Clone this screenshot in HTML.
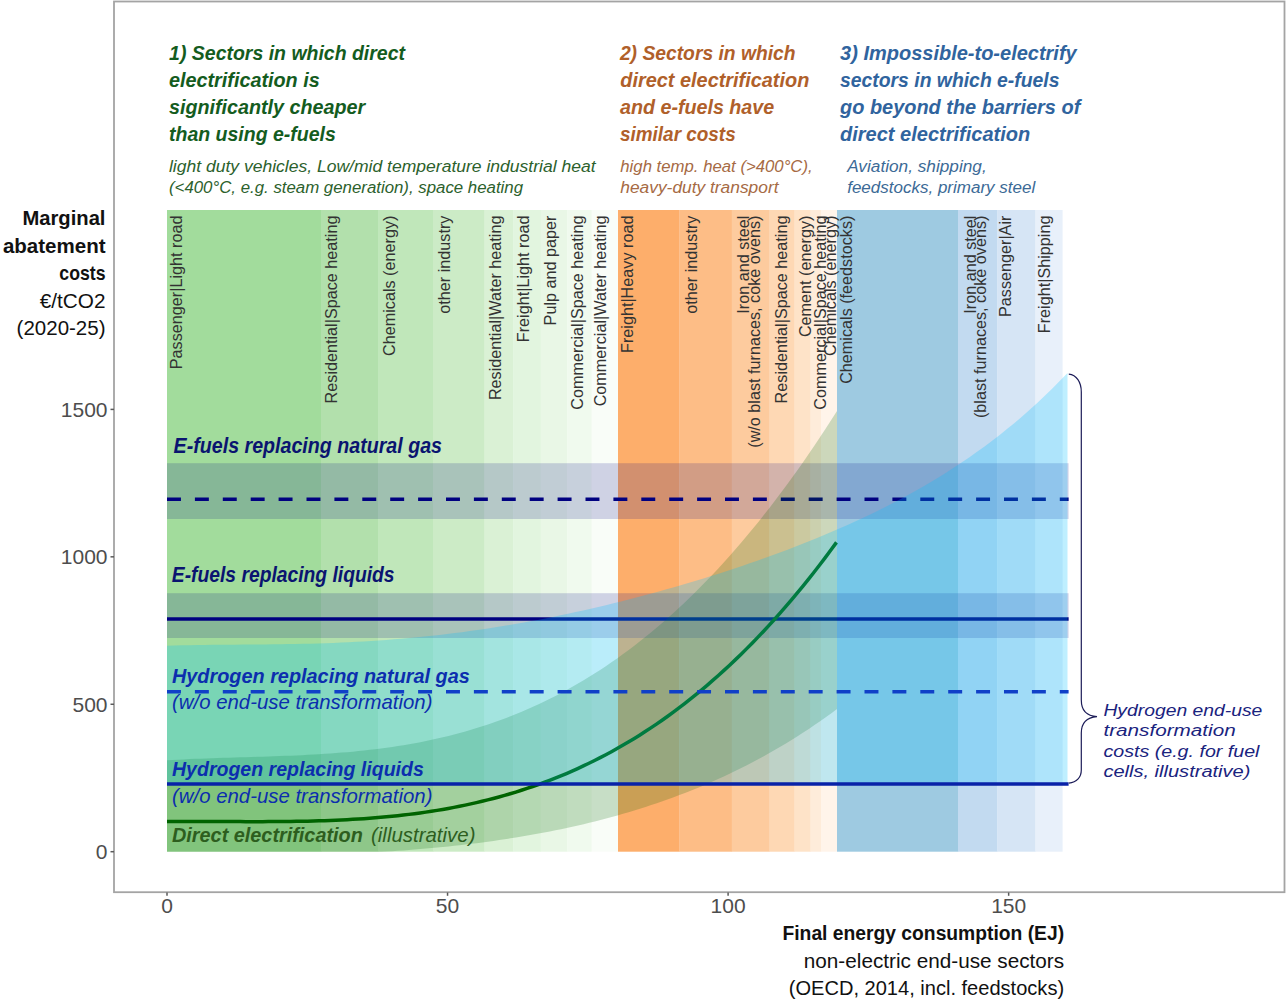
<!DOCTYPE html>
<html><head><meta charset="utf-8"><style>
html,body{margin:0;padding:0;background:#fff;overflow:hidden;}
svg{display:block;font-family:"Liberation Sans",sans-serif;}
</style></head><body>
<svg width="1286" height="1003" viewBox="0 0 1286 1003">
<rect width="1286" height="1003" fill="#fff"/>
<rect x="167" y="210" width="154.30" height="641.7" fill="#a2dc9c"/>
<rect x="321" y="210" width="57.80" height="641.7" fill="#b2e0ac"/>
<rect x="378.5" y="210" width="55.30" height="641.7" fill="#c0e7ba"/>
<rect x="433.5" y="210" width="51.30" height="641.7" fill="#ccebc6"/>
<rect x="484.5" y="210" width="28.90" height="641.7" fill="#daf1d5"/>
<rect x="513.1" y="210" width="27.90" height="641.7" fill="#e2f5df"/>
<rect x="540.7" y="210" width="26.80" height="641.7" fill="#e9f7e6"/>
<rect x="567.2" y="210" width="24.70" height="641.7" fill="#f0faee"/>
<rect x="591.6" y="210" width="26.70" height="641.7" fill="#f9fdf8"/>
<rect x="618" y="210" width="61.60" height="641.7" fill="#fdae6b"/>
<rect x="679.3" y="210" width="52.80" height="641.7" fill="#fdbd86"/>
<rect x="731.8" y="210" width="38.00" height="641.7" fill="#fdcb9e"/>
<rect x="769.5" y="210" width="25.30" height="641.7" fill="#fed8b4"/>
<rect x="794.5" y="210" width="16.30" height="641.7" fill="#fee3c8"/>
<rect x="810.5" y="210" width="10.80" height="641.7" fill="#feecda"/>
<rect x="821" y="210" width="16.30" height="641.7" fill="#fff4ea"/>
<rect x="837" y="210" width="121.30" height="641.7" fill="#9ecae1"/>
<rect x="958" y="210" width="39.50" height="641.7" fill="#c2daf0"/>
<rect x="997.2" y="210" width="38.50" height="641.7" fill="#d6e5f5"/>
<rect x="1035.4" y="210" width="27.20" height="641.7" fill="#e8f0fa"/>
<rect x="167" y="463.2" width="901.5999999999999" height="55.80000000000001" fill="#000080" fill-opacity="0.17"/>
<rect x="167" y="593.2" width="901.5999999999999" height="44.799999999999955" fill="#000080" fill-opacity="0.17"/>
<line x1="167" y1="499.3" x2="1068.6" y2="499.3" stroke="#000080" stroke-width="3.5" stroke-dasharray="13.95 13.95"/>
<line x1="167" y1="619" x2="1068.6" y2="619" stroke="#000080" stroke-width="3.5"/>
<polygon points="167.00,760.32 172.63,759.98 178.26,759.67 183.89,759.38 189.52,759.11 195.15,758.86 200.78,758.63 206.41,758.42 212.04,758.21 217.67,758.02 223.30,757.84 228.93,757.67 234.56,757.50 240.19,757.33 245.82,757.16 251.45,757.00 257.08,756.83 262.71,756.65 268.34,756.47 273.97,756.28 279.61,756.08 285.24,755.87 290.87,755.64 296.50,755.40 302.13,755.14 307.76,754.85 313.39,754.55 319.02,754.22 324.65,753.86 330.28,753.48 335.91,753.07 341.54,752.62 347.17,752.15 352.80,751.63 358.43,751.09 364.06,750.50 369.69,749.87 375.32,749.20 380.95,748.49 386.58,747.73 392.21,746.93 397.84,746.07 403.47,745.17 409.10,744.21 414.73,743.20 420.36,742.14 425.99,741.01 431.62,739.83 437.25,738.59 442.88,737.29 448.51,735.92 454.14,734.49 459.77,732.99 465.40,731.43 471.03,729.79 476.66,728.08 482.29,726.31 487.92,724.45 493.55,722.52 499.18,720.52 504.82,718.43 510.45,716.27 516.08,714.02 521.71,711.69 527.34,709.28 532.97,706.78 538.60,704.20 544.23,701.52 549.86,698.76 555.49,695.91 561.12,692.96 566.75,689.92 572.38,686.78 578.01,683.55 583.64,680.22 589.27,676.79 594.90,673.26 600.53,669.64 606.16,665.90 611.79,662.07 617.42,658.13 623.05,654.08 628.68,649.92 634.31,645.66 639.94,641.29 645.57,636.80 651.20,632.20 656.83,627.49 662.46,622.67 668.09,617.73 673.72,612.68 679.35,607.50 684.98,602.21 690.61,596.80 696.24,591.26 701.87,585.61 707.50,579.83 713.13,573.93 718.76,567.91 724.39,561.75 730.03,555.48 735.66,549.07 741.29,542.53 746.92,535.87 752.55,529.08 758.18,522.15 763.81,515.09 769.44,507.90 775.07,500.57 780.70,493.11 786.33,485.51 791.96,477.78 797.59,469.91 803.22,461.90 808.85,453.75 814.48,445.46 820.11,437.04 825.74,428.47 831.37,419.75 837.00,410.90 837.00,709.08 831.37,713.22 825.74,717.27 820.11,721.23 814.48,725.10 808.85,728.88 803.22,732.58 797.59,736.19 791.96,739.73 786.33,743.18 780.70,746.55 775.07,749.84 769.44,753.06 763.81,756.20 758.18,759.26 752.55,762.26 746.92,765.18 741.29,768.03 735.66,770.81 730.03,773.53 724.39,776.18 718.76,778.76 713.13,781.28 707.50,783.73 701.87,786.13 696.24,788.46 690.61,790.74 684.98,792.95 679.35,795.11 673.72,797.22 668.09,799.27 662.46,801.26 656.83,803.20 651.20,805.10 645.57,806.94 639.94,808.73 634.31,810.47 628.68,812.16 623.05,813.81 617.42,815.42 611.79,816.97 606.16,818.49 600.53,819.96 594.90,821.39 589.27,822.78 583.64,824.13 578.01,825.44 572.38,826.71 566.75,827.94 561.12,829.13 555.49,830.29 549.86,831.42 544.23,832.51 538.60,833.56 532.97,834.59 527.34,835.58 521.71,836.54 516.08,837.46 510.45,838.36 504.82,839.23 499.18,840.07 493.55,840.88 487.92,841.66 482.29,842.42 476.66,843.14 471.03,843.85 465.40,844.52 459.77,845.17 454.14,845.80 448.51,846.40 442.88,846.98 437.25,847.53 431.62,848.07 425.99,848.58 420.36,849.07 414.73,849.53 409.10,849.98 403.47,850.40 397.84,850.81 392.21,851.19 386.58,851.56 380.95,851.70 375.32,851.70 369.69,851.70 364.06,851.70 358.43,851.70 352.80,851.70 347.17,851.70 341.54,851.70 335.91,851.70 330.28,851.70 324.65,851.70 319.02,851.70 313.39,851.70 307.76,851.70 302.13,851.70 296.50,851.70 290.87,851.70 285.24,851.70 279.61,851.70 273.97,851.70 268.34,851.70 262.71,851.70 257.08,851.70 251.45,851.70 245.82,851.70 240.19,851.70 234.56,851.70 228.93,851.70 223.30,851.70 217.67,851.70 212.04,851.70 206.41,851.70 200.78,851.70 195.15,851.70 189.52,851.70 183.89,851.70 178.26,851.70 172.63,851.70 167.00,851.70" fill="#006400" fill-opacity="0.2"/>
<polyline points="167.00,821.46 172.63,821.44 178.25,821.42 183.88,821.42 189.50,821.43 195.13,821.44 200.76,821.45 206.38,821.48 212.01,821.50 217.63,821.53 223.26,821.55 228.89,821.58 234.51,821.60 240.14,821.62 245.76,821.63 251.39,821.64 257.02,821.64 262.64,821.64 268.27,821.62 273.89,821.59 279.52,821.56 285.15,821.50 290.77,821.44 296.40,821.35 302.03,821.25 307.65,821.13 313.28,820.99 318.90,820.83 324.53,820.65 330.16,820.45 335.78,820.22 341.41,819.96 347.03,819.68 352.66,819.36 358.29,819.02 363.91,818.65 369.54,818.24 375.16,817.80 380.79,817.33 386.42,816.81 392.04,816.27 397.67,815.68 403.29,815.05 408.92,814.38 414.55,813.67 420.17,812.91 425.80,812.11 431.42,811.26 437.05,810.36 442.68,809.42 448.30,808.42 453.93,807.37 459.55,806.27 465.18,805.12 470.81,803.91 476.43,802.64 482.06,801.31 487.68,799.92 493.31,798.48 498.94,796.97 504.56,795.39 510.19,793.76 515.82,792.05 521.44,790.28 527.07,788.44 532.69,786.53 538.32,784.55 543.95,782.49 549.57,780.36 555.20,778.16 560.82,775.88 566.45,773.52 572.08,771.08 577.70,768.56 583.33,765.96 588.95,763.28 594.58,760.51 600.21,757.65 605.83,754.71 611.46,751.68 617.08,748.56 622.71,745.35 628.34,742.04 633.96,738.65 639.59,735.15 645.21,731.56 650.84,727.87 656.47,724.08 662.09,720.20 667.72,716.21 673.34,712.11 678.97,707.91 684.60,703.61 690.22,699.20 695.85,694.68 701.47,690.04 707.10,685.30 712.73,680.45 718.35,675.48 723.98,670.39 729.61,665.19 735.23,659.87 740.86,654.43 746.48,648.87 752.11,643.19 757.74,637.38 763.36,631.45 768.99,625.40 774.61,619.21 780.24,612.90 785.87,606.45 791.49,599.87 797.12,593.16 802.74,586.32 808.37,579.34 814.00,572.22 819.62,564.97 825.25,557.57 830.87,550.03 836.50,542.35" fill="none" stroke="#006400" stroke-width="3.5"/>
<polygon points="167.00,645.70 174.57,645.47 182.13,645.29 189.70,645.14 197.27,645.02 204.84,644.92 212.40,644.84 219.97,644.77 227.54,644.71 235.11,644.66 242.67,644.60 250.24,644.55 257.81,644.49 265.37,644.42 272.94,644.33 280.51,644.23 288.08,644.12 295.64,643.98 303.21,643.82 310.78,643.63 318.34,643.41 325.91,643.17 333.48,642.89 341.05,642.58 348.61,642.23 356.18,641.85 363.75,641.43 371.32,640.97 378.88,640.47 386.45,639.93 394.02,639.34 401.58,638.72 409.15,638.05 416.72,637.34 424.29,636.58 431.85,635.78 439.42,634.94 446.99,634.05 454.55,633.12 462.12,632.14 469.69,631.11 477.26,630.04 484.82,628.92 492.39,627.76 499.96,626.56 507.53,625.31 515.09,624.02 522.66,622.68 530.23,621.30 537.79,619.88 545.36,618.41 552.93,616.90 560.50,615.35 568.06,613.76 575.63,612.12 583.20,610.44 590.76,608.73 598.33,606.97 605.90,605.17 613.47,603.33 621.03,601.45 628.60,599.54 636.17,597.58 643.74,595.58 651.30,593.55 658.87,591.47 666.44,589.35 674.00,587.20 681.57,585.00 689.14,582.76 696.71,580.49 704.27,578.17 711.84,575.81 719.41,573.40 726.97,570.95 734.54,568.46 742.11,565.92 749.68,563.34 757.24,560.70 764.81,558.02 772.38,555.29 779.95,552.50 787.51,549.66 795.08,546.76 802.65,543.81 810.21,540.79 817.78,537.71 825.35,534.56 832.92,531.35 840.48,528.06 848.05,524.70 855.62,521.26 863.18,517.74 870.75,514.14 878.32,510.44 885.89,506.65 893.45,502.77 901.02,498.78 908.59,494.68 916.16,490.47 923.72,486.15 931.29,481.70 938.86,477.13 946.42,472.42 953.99,467.57 961.56,462.57 969.13,457.42 976.69,452.11 984.26,446.63 991.83,440.98 999.39,435.15 1006.96,429.12 1014.53,422.89 1022.10,416.46 1029.66,409.81 1037.23,402.93 1044.80,395.82 1052.37,388.46 1059.93,380.85 1067.50,372.97 1067.50,784.00 167.00,784.00" fill="#00bfff" fill-opacity="0.25"/>
<line x1="167" y1="691.7" x2="1068.6" y2="691.7" stroke="#1040c8" stroke-width="3.4" stroke-dasharray="13.95 13.95"/>
<line x1="167" y1="784" x2="1068.6" y2="784" stroke="#0822a8" stroke-width="3.5"/>
<rect x="114" y="1.5" width="1170.5" height="890.7" fill="none" stroke="#a4a4a4" stroke-width="1.8"/>
<line x1="110.5" y1="851.70" x2="114" y2="851.70" stroke="#5a5a5a" stroke-width="1.5"/>
<text x="107.5" y="859.10" text-anchor="end" font-size="21" fill="#4d4d4d">0</text>
<line x1="110.5" y1="704.27" x2="114" y2="704.27" stroke="#5a5a5a" stroke-width="1.5"/>
<text x="107.5" y="711.67" text-anchor="end" font-size="21" fill="#4d4d4d">500</text>
<line x1="110.5" y1="556.83" x2="114" y2="556.83" stroke="#5a5a5a" stroke-width="1.5"/>
<text x="107.5" y="564.23" text-anchor="end" font-size="21" fill="#4d4d4d">1000</text>
<line x1="110.5" y1="409.40" x2="114" y2="409.40" stroke="#5a5a5a" stroke-width="1.5"/>
<text x="107.5" y="416.80" text-anchor="end" font-size="21" fill="#4d4d4d">1500</text>
<line x1="167.00" y1="892.5" x2="167.00" y2="895.8" stroke="#5a5a5a" stroke-width="1.5"/>
<text x="167.00" y="913.3" text-anchor="middle" font-size="21" fill="#4d4d4d">0</text>
<line x1="447.55" y1="892.5" x2="447.55" y2="895.8" stroke="#5a5a5a" stroke-width="1.5"/>
<text x="447.55" y="913.3" text-anchor="middle" font-size="21" fill="#4d4d4d">50</text>
<line x1="728.10" y1="892.5" x2="728.10" y2="895.8" stroke="#5a5a5a" stroke-width="1.5"/>
<text x="728.10" y="913.3" text-anchor="middle" font-size="21" fill="#4d4d4d">100</text>
<line x1="1008.65" y1="892.5" x2="1008.65" y2="895.8" stroke="#5a5a5a" stroke-width="1.5"/>
<text x="1008.65" y="913.3" text-anchor="middle" font-size="21" fill="#4d4d4d">150</text>
<text transform="translate(182.2,215.6) rotate(-90)" x="0" y="0" font-size="16.2" fill="#333333" text-anchor="end">Passenger|Light road</text>
<text transform="translate(337,215.6) rotate(-90)" x="0" y="0" font-size="16.2" fill="#333333" text-anchor="end">Residential|Space heating</text>
<text transform="translate(394.5,215.6) rotate(-90)" x="0" y="0" font-size="16.2" fill="#333333" text-anchor="end">Chemicals (energy)</text>
<text transform="translate(450.3,215.6) rotate(-90)" x="0" y="0" font-size="16.2" fill="#333333" text-anchor="end">other industry</text>
<text transform="translate(500.9,215.6) rotate(-90)" x="0" y="0" font-size="16.2" fill="#333333" text-anchor="end">Residential|Water heating</text>
<text transform="translate(528.5,215.6) rotate(-90)" x="0" y="0" font-size="16.2" fill="#333333" text-anchor="end">Freight|Light road</text>
<text transform="translate(556,215.6) rotate(-90)" x="0" y="0" font-size="16.2" fill="#333333" text-anchor="end">Pulp and paper</text>
<text transform="translate(582.6,215.6) rotate(-90)" x="0" y="0" font-size="16.2" fill="#333333" text-anchor="end">Commercial|Space heating</text>
<text transform="translate(606.2,215.6) rotate(-90)" x="0" y="0" font-size="16.2" fill="#333333" text-anchor="end">Commercial|Water heating</text>
<text transform="translate(632.5,215.6) rotate(-90)" x="0" y="0" font-size="16.2" fill="#333333" text-anchor="end">Freight|Heavy road</text>
<text transform="translate(696.6,215.6) rotate(-90)" x="0" y="0" font-size="16.2" fill="#333333" text-anchor="end">other industry</text>
<text transform="translate(748.5,215.6) rotate(-90)" x="0" y="0" font-size="16.2" fill="#333333" text-anchor="end">Iron and steel</text>
<text transform="translate(760,215.6) rotate(-90)" x="0" y="0" font-size="16.2" fill="#333333" text-anchor="end">(w/o blast furnaces, coke ovens)</text>
<text transform="translate(787,215.6) rotate(-90)" x="0" y="0" font-size="16.2" fill="#333333" text-anchor="end">Residential|Space heating</text>
<text transform="translate(811.4,215.6) rotate(-90)" x="0" y="0" font-size="16.2" fill="#333333" text-anchor="end">Cement (energy)</text>
<text transform="translate(825.5,215.6) rotate(-90)" x="0" y="0" font-size="16.2" fill="#333333" text-anchor="end">Commercial|Space heating</text>
<text transform="translate(835.8,215.6) rotate(-90)" x="0" y="0" font-size="16.2" fill="#333333" text-anchor="end">Chemicals (energy)</text>
<text transform="translate(851.8,215.6) rotate(-90)" x="0" y="0" font-size="16.2" fill="#333333" text-anchor="end">Chemicals (feedstocks)</text>
<text transform="translate(976,215.6) rotate(-90)" x="0" y="0" font-size="16.2" fill="#333333" text-anchor="end">Iron and steel</text>
<text transform="translate(985.6,215.6) rotate(-90)" x="0" y="0" font-size="16.2" fill="#333333" text-anchor="end">(blast furnaces, coke ovens)</text>
<text transform="translate(1010.8,215.6) rotate(-90)" x="0" y="0" font-size="16.2" fill="#333333" text-anchor="end">Passenger|Air</text>
<text transform="translate(1049.5,215.6) rotate(-90)" x="0" y="0" font-size="16.2" fill="#333333" text-anchor="end">Freight|Shipping</text>
<text x="169.1" y="59.5" font-size="21" fill="#145c1e" font-weight="bold" font-style="italic" text-anchor="start" textLength="235.9" lengthAdjust="spacingAndGlyphs">1) Sectors in which direct</text>
<text x="169" y="86.8" font-size="21" fill="#145c1e" font-weight="bold" font-style="italic" text-anchor="start" textLength="150.7" lengthAdjust="spacingAndGlyphs">electrification is</text>
<text x="169" y="114.1" font-size="21" fill="#145c1e" font-weight="bold" font-style="italic" text-anchor="start" textLength="196.2" lengthAdjust="spacingAndGlyphs">significantly cheaper</text>
<text x="169" y="141.4" font-size="21" fill="#145c1e" font-weight="bold" font-style="italic" text-anchor="start" textLength="166.9" lengthAdjust="spacingAndGlyphs">than using e-fuels</text>
<text x="619.9" y="59.5" font-size="21" fill="#b0602a" font-weight="bold" font-style="italic" text-anchor="start" textLength="175.7" lengthAdjust="spacingAndGlyphs">2) Sectors in which</text>
<text x="620.3" y="86.8" font-size="21" fill="#b0602a" font-weight="bold" font-style="italic" text-anchor="start" textLength="189.0" lengthAdjust="spacingAndGlyphs">direct electrification</text>
<text x="620" y="114.1" font-size="21" fill="#b0602a" font-weight="bold" font-style="italic" text-anchor="start" textLength="154.2" lengthAdjust="spacingAndGlyphs">and e-fuels have</text>
<text x="620" y="141.4" font-size="21" fill="#b0602a" font-weight="bold" font-style="italic" text-anchor="start" textLength="115.7" lengthAdjust="spacingAndGlyphs">similar costs</text>
<text x="840.1" y="59.5" font-size="21" fill="#30649e" font-weight="bold" font-style="italic" text-anchor="start" textLength="236.6" lengthAdjust="spacingAndGlyphs">3) Impossible-to-electrify</text>
<text x="840" y="86.8" font-size="21" fill="#30649e" font-weight="bold" font-style="italic" text-anchor="start" textLength="219.5" lengthAdjust="spacingAndGlyphs">sectors in which e-fuels</text>
<text x="840" y="114.1" font-size="21" fill="#30649e" font-weight="bold" font-style="italic" text-anchor="start" textLength="240.3" lengthAdjust="spacingAndGlyphs">go beyond the barriers of</text>
<text x="840" y="141.4" font-size="21" fill="#30649e" font-weight="bold" font-style="italic" text-anchor="start" textLength="190.2" lengthAdjust="spacingAndGlyphs">direct electrification</text>
<text x="168.9" y="172" font-size="16.3" fill="#2c612c" font-weight="normal" font-style="italic" text-anchor="start" textLength="426.7" lengthAdjust="spacingAndGlyphs">light duty vehicles, Low/mid temperature industrial heat</text>
<text x="169" y="193.4" font-size="16.3" fill="#2c612c" font-weight="normal" font-style="italic" text-anchor="start" textLength="354.0" lengthAdjust="spacingAndGlyphs">(&lt;400°C, e.g. steam generation), space heating</text>
<text x="620.3" y="172" font-size="16.3" fill="#a66a44" font-weight="normal" font-style="italic" text-anchor="start" textLength="192.4" lengthAdjust="spacingAndGlyphs">high temp. heat (&gt;400°C),</text>
<text x="620.3" y="193.4" font-size="16.3" fill="#a66a44" font-weight="normal" font-style="italic" text-anchor="start" textLength="158.2" lengthAdjust="spacingAndGlyphs">heavy-duty transport</text>
<text x="847.2" y="172" font-size="16.3" fill="#3c6a96" font-weight="normal" font-style="italic" text-anchor="start" textLength="139.5" lengthAdjust="spacingAndGlyphs">Aviation, shipping,</text>
<text x="847.2" y="193.4" font-size="16.3" fill="#3c6a96" font-weight="normal" font-style="italic" text-anchor="start" textLength="188.0" lengthAdjust="spacingAndGlyphs">feedstocks, primary steel</text>
<text x="22.4" y="225.3" font-size="20.5" fill="#111111" font-weight="bold" font-style="normal" text-anchor="start" textLength="83.1" lengthAdjust="spacingAndGlyphs">Marginal</text>
<text x="2.9" y="252.8" font-size="20.5" fill="#111111" font-weight="bold" font-style="normal" text-anchor="start" textLength="102.6" lengthAdjust="spacingAndGlyphs">abatement</text>
<text x="59.3" y="280.2" font-size="20.5" fill="#111111" font-weight="bold" font-style="normal" text-anchor="start" textLength="46.2" lengthAdjust="spacingAndGlyphs">costs</text>
<text x="39.8" y="308.4" font-size="20.5" fill="#111111" font-weight="normal" font-style="normal" text-anchor="start" textLength="65.7" lengthAdjust="spacingAndGlyphs">€/tCO2</text>
<text x="16.6" y="335.2" font-size="20.5" fill="#111111" font-weight="normal" font-style="normal" text-anchor="start" textLength="88.9" lengthAdjust="spacingAndGlyphs">(2020-25)</text>
<text x="782.5" y="939.6" font-size="20" fill="#111111" font-weight="bold" font-style="normal" text-anchor="start" textLength="281.6" lengthAdjust="spacingAndGlyphs">Final energy consumption (EJ)</text>
<text x="803.8" y="967.6" font-size="20" fill="#111111" font-weight="normal" font-style="normal" text-anchor="start" textLength="260.3" lengthAdjust="spacingAndGlyphs">non-electric end-use sectors</text>
<text x="788.8" y="994.6" font-size="20" fill="#111111" font-weight="normal" font-style="normal" text-anchor="start" textLength="275.3" lengthAdjust="spacingAndGlyphs">(OECD, 2014, incl. feedstocks)</text>
<text x="173.6" y="452.6" font-size="21.3" fill="#0a1470" font-weight="bold" font-style="italic" text-anchor="start" textLength="268.4" lengthAdjust="spacingAndGlyphs">E-fuels replacing natural gas</text>
<text x="171.8" y="581.9" font-size="21.3" fill="#0a1470" font-weight="bold" font-style="italic" text-anchor="start" textLength="222.8" lengthAdjust="spacingAndGlyphs">E-fuels replacing liquids</text>
<text x="172" y="682.9" font-size="20.6" fill="#0c2eae" font-weight="bold" font-style="italic" text-anchor="start" textLength="297.8" lengthAdjust="spacingAndGlyphs">Hydrogen replacing natural gas</text>
<text x="172" y="708.5" font-size="20.6" fill="#0c2eae" font-weight="normal" font-style="italic" text-anchor="start" textLength="260.5" lengthAdjust="spacingAndGlyphs">(w/o end-use transformation)</text>
<text x="172" y="775.6" font-size="20.6" fill="#0c2eae" font-weight="bold" font-style="italic" text-anchor="start" textLength="251.8" lengthAdjust="spacingAndGlyphs">Hydrogen replacing liquids</text>
<text x="172" y="803" font-size="20.6" fill="#0c2eae" font-weight="normal" font-style="italic" text-anchor="start" textLength="260.5" lengthAdjust="spacingAndGlyphs">(w/o end-use transformation)</text>
<text x="172" y="842" font-size="20.6" fill="#2d5e1e" font-weight="bold" font-style="italic" text-anchor="start" textLength="190.8" lengthAdjust="spacingAndGlyphs">Direct electrification</text>
<text x="371" y="842" font-size="20.6" fill="#2d5e1e" font-weight="normal" font-style="italic" text-anchor="start" textLength="104.5" lengthAdjust="spacingAndGlyphs">(illustrative)</text>
<text x="1103.4" y="715.7" font-size="15.8" fill="#1a237e" font-weight="normal" font-style="italic" text-anchor="start" textLength="158.9" lengthAdjust="spacingAndGlyphs">Hydrogen end-use</text>
<text x="1103.4" y="735.6" font-size="15.8" fill="#1a237e" font-weight="normal" font-style="italic" text-anchor="start" textLength="132.3" lengthAdjust="spacingAndGlyphs">transformation</text>
<text x="1103.4" y="756.6" font-size="15.8" fill="#1a237e" font-weight="normal" font-style="italic" text-anchor="start" textLength="156.1" lengthAdjust="spacingAndGlyphs">costs (e.g. for fuel</text>
<text x="1103.4" y="776.9" font-size="15.8" fill="#1a237e" font-weight="normal" font-style="italic" text-anchor="start" textLength="147.0" lengthAdjust="spacingAndGlyphs">cells, illustrative)</text>
<path d="M1068.8,374.2 C1076.5,375 1081.3,382 1081.3,392 L1081.3,700 C1081.3,710 1086,716 1097,716.6 C1086,717.5 1081.3,723 1081.3,733 L1081.3,770 C1081.3,777 1077,782.5 1068.8,783.2" fill="none" stroke="#1c1c58" stroke-width="1.2"/>
</svg></body></html>
